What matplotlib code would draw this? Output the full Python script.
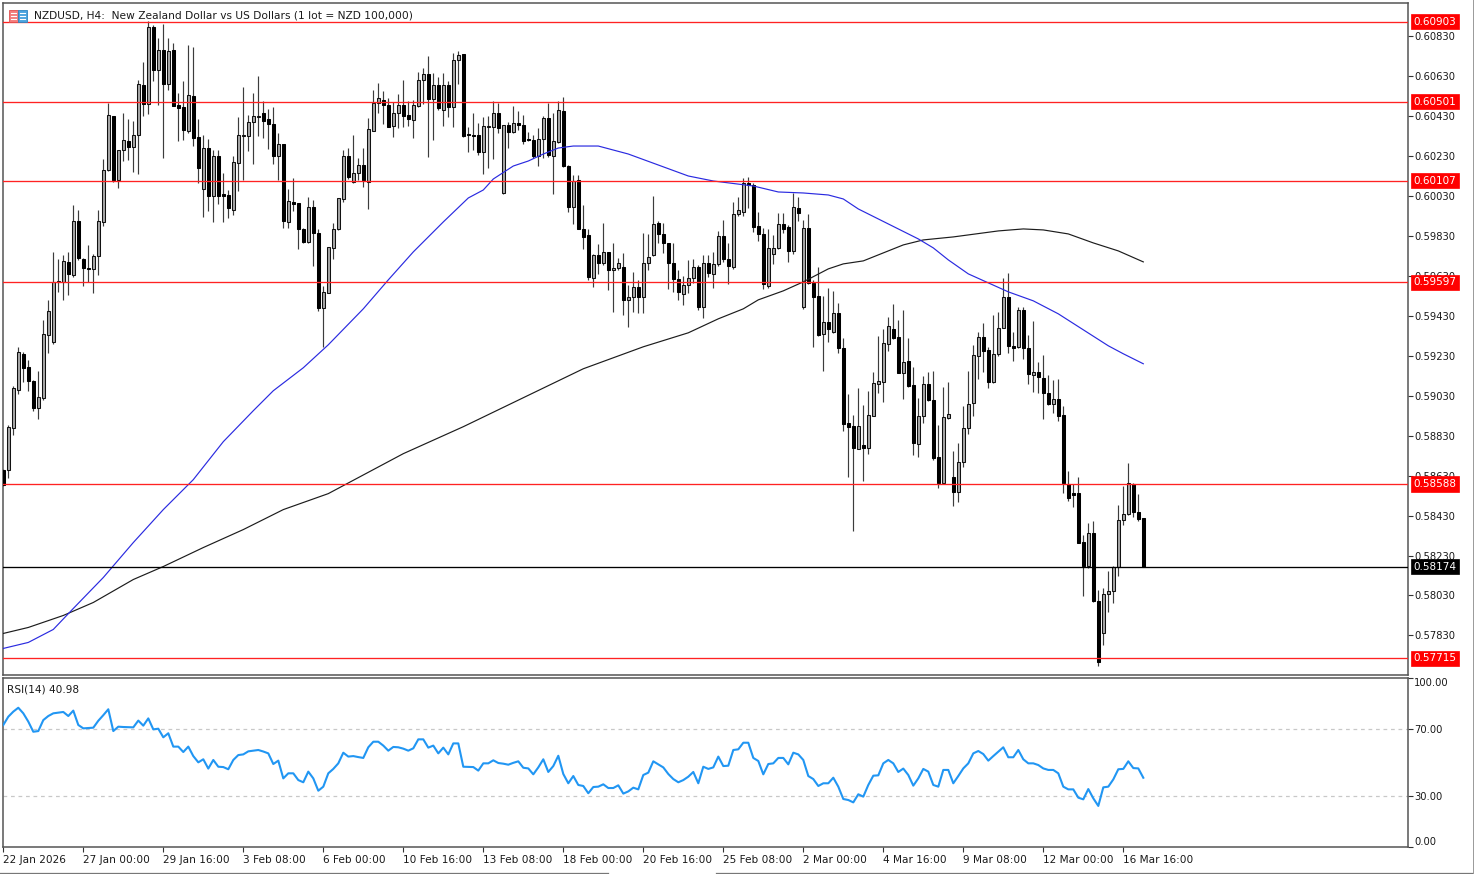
import numpy as np
import matplotlib
matplotlib.use("Agg")
import matplotlib.pyplot as plt
from matplotlib.lines import Line2D
from matplotlib.patches import Rectangle
from matplotlib.transforms import Affine2D

# prices are kept in points (1e-5)
opens = [
    58660, 58660, 58870, 59060, 59240, 59175, 59105, 58970, 59020, 59335,
    59300, 59600, 59600, 59700, 59635, 59905, 59715, 59670, 59665, 59730,
    59900, 60160, 60430, 60110, 60260, 60305, 60275, 60335, 60585, 60490,
    60875, 60660, 60760, 60590, 60760, 60485, 60475, 60355, 60530, 60325,
    60065, 60270, 60030, 60230, 60040, 60035, 59960, 60195, 60330, 60330,
    60400, 60425, 60445, 60415, 60390, 60230, 60290, 59900, 60000, 59995,
    59865, 59800, 59975, 59845, 59470, 59545, 59770, 59865, 60015, 60230,
    60100, 60145, 60185, 60100, 60355, 60495, 60510, 60485, 60380, 60445,
    60485, 60435, 60410, 60480, 60610, 60640, 60515, 60585, 60460, 60585,
    60475, 60710, 60740, 60340, 60335, 60335, 60250, 60375, 60375, 60445,
    60045, 60385, 60350, 60395, 60385, 60315, 60310, 60230, 60315, 60420,
    60230, 60300, 60455, 60180, 59975, 60110, 59865, 59835, 59620, 59735,
    59695, 59750, 59660, 59670, 59675, 59510, 59525, 59575, 59525, 59695,
    59735, 59895, 59840, 59795, 59695, 59615, 59540, 59585, 59620, 59675,
    59475, 59695, 59640, 59690, 59830, 59715, 59675, 59940, 59950, 60095,
    60085, 59880, 59840, 59580, 59740, 59770, 59890, 59875, 59755, 59970,
    59475, 59870, 59595, 59530, 59340, 59400, 59350, 59445, 59270, 58895,
    58880, 58765, 58785, 58770, 58930, 59090, 59100, 59290, 59365, 59325,
    59145, 59205, 59085, 58790, 58930, 59090, 59010, 58725, 58595, 58920,
    58625, 58550, 58700, 58870, 58995, 59230, 59325, 59260, 59100, 59240,
    59370, 59525, 59280, 59275, 59460, 59270, 59135, 59150, 59120, 59045,
    58990, 59015, 58935, 58590, 58545, 58545, 58300, 58180, 58345, 58000,
    57840, 58035, 58050, 58175, 58410, 58440, 58590, 58450, 58420,
]
closes = [
    58585, 58875, 59070, 59250, 59170, 59105, 58970, 59025, 59340, 59455,
    59600, 59605, 59705, 59640, 59905, 59720, 59670, 59665, 59730, 59905,
    60160, 60435, 60110, 60260, 60310, 60275, 60335, 60590, 60490, 60875,
    60660, 60760, 60590, 60755, 60480, 60470, 60360, 60535, 60320, 60170,
    60270, 60030, 60230, 60030, 60030, 59970, 60200, 60335, 60335, 60400,
    60430, 60430, 60405, 60390, 60230, 60290, 59905, 60005, 59990, 59865,
    59800, 59975, 59845, 59470, 59550, 59775, 59865, 60020, 60230, 60125,
    60145, 60185, 60110, 60365, 60495, 60520, 60485, 60375, 60445, 60485,
    60430, 60415, 60485, 60610, 60640, 60515, 60585, 60470, 60585, 60475,
    60710, 60735, 60330, 60335, 60330, 60250, 60380, 60380, 60445, 60370,
    60385, 60350, 60395, 60385, 60305, 60310, 60230, 60315, 60420, 60235,
    60305, 60460, 60180, 59975, 60105, 59865, 59825, 59625, 59735, 59695,
    59750, 59660, 59670, 59695, 59510, 59525, 59575, 59525, 59695, 59725,
    59890, 59840, 59795, 59695, 59615, 59550, 59585, 59620, 59675, 59475,
    59695, 59645, 59690, 59830, 59715, 59680, 59940, 59960, 60095, 60085,
    59875, 59840, 59590, 59770, 59770, 59890, 59865, 59755, 59975, 59945,
    59870, 59595, 59525, 59335, 59400, 59365, 59445, 59270, 58890, 58875,
    58770, 58880, 58770, 58935, 59095, 59105, 59295, 59380, 59320, 59145,
    59200, 59080, 58795, 58930, 59090, 59010, 58720, 58595, 58925, 58940,
    58550, 58700, 58870, 58990, 59235, 59325, 59255, 59100, 59240, 59370,
    59525, 59280, 59270, 59460, 59270, 59140, 59150, 59125, 59045, 58990,
    59015, 58930, 58595, 58520, 58535, 58295, 58180, 58345, 58000, 57695,
    58035, 58050, 58175, 58410, 58440, 58595, 58450, 58415, 58174,
]
highs = [
    58665, 58885, 59080, 59275, 59250, 59210, 59110, 59155, 59410, 59510,
    59750, 59715, 59735, 59750, 59985, 59960, 59720, 59785, 59740, 59960,
    60215, 60495, 60430, 60260, 60445, 60415, 60405, 60610, 60700, 60905,
    60885, 60820, 60890, 60820, 60795, 60545, 60605, 60785, 60775, 60415,
    60335, 60315, 60260, 60260, 60145, 60060, 60230, 60425, 60575, 60435,
    60545, 60630, 60505, 60465, 60475, 60345, 60290, 60065, 60120, 59995,
    59870, 60025, 60010, 59865, 59580, 59775, 59895, 60020, 60260, 60270,
    60335, 60220, 60270, 60420, 60560, 60595, 60555, 60520, 60500, 60540,
    60610, 60505, 60510, 60650, 60670, 60730, 60645, 60625, 60645, 60605,
    60745, 60755, 60740, 60375, 60445, 60395, 60425, 60430, 60505, 60495,
    60385, 60400, 60480, 60455, 60435, 60350, 60335, 60370, 60430, 60495,
    60445, 60505, 60525, 60185, 60135, 60135, 59985, 59865, 59740, 59790,
    59895, 59750, 59795, 59720, 59745, 59585, 59650, 59610, 59845, 59840,
    60030, 59905, 59895, 59795, 59795, 59660, 59630, 59710, 59715, 59685,
    59735, 59735, 59750, 59855, 59910, 59795, 60000, 60025, 60120, 60125,
    60095, 59950, 59870, 59865, 59835, 59945, 59945, 59885, 60045, 60025,
    59910, 59940, 59610, 59675, 59530, 59570, 59555, 59495, 59320, 59040,
    58935, 59070, 58985, 59055, 59150, 59330, 59365, 59425, 59490, 59410,
    59460, 59320, 59175, 59020, 59130, 59150, 59155, 58885, 59075, 59100,
    58755, 58795, 58980, 59155, 59285, 59350, 59395, 59275, 59435, 59450,
    59620, 59645, 59350, 59475, 59475, 59335, 59405, 59200, 59235, 59135,
    59110, 59115, 58980, 58655, 58590, 58625, 58335, 58395, 58405, 58060,
    58070, 58155, 58180, 58485, 58580, 58695, 58595, 58540, 58420,
]
lows = [
    58580, 58620, 58835, 59040, 59100, 59055, 58955, 58915, 59010, 59245,
    59290, 59550, 59510, 59535, 59625, 59710, 59580, 59600, 59545, 59635,
    59880, 60155, 60100, 60070, 60205, 60210, 60150, 60140, 60430, 60440,
    60605, 60485, 60220, 60560, 60480, 60305, 60310, 60345, 60280, 60095,
    59925, 59955, 59900, 59990, 59900, 59920, 59935, 60055, 60110, 60255,
    60190, 60330, 60320, 60265, 60190, 60110, 59870, 59870, 59955, 59765,
    59795, 59795, 59680, 59455, 59275, 59545, 59715, 59860, 60000, 60115,
    60095, 60110, 60075, 59965, 60355, 60445, 60390, 60375, 60325, 60370,
    60375, 60380, 60320, 60475, 60490, 60225, 60310, 60460, 60380, 60425,
    60375, 60590, 60325, 60250, 60260, 60235, 60140, 60170, 60215, 60345,
    60040, 60270, 60345, 60360, 60290, 60305, 60220, 60180, 60220, 60225,
    60040, 60295, 60175, 59950, 59890, 59865, 59765, 59610, 59575, 59640,
    59685, 59560, 59450, 59660, 59435, 59375, 59450, 59445, 59445, 59660,
    59730, 59795, 59745, 59565, 59550, 59510, 59485, 59545, 59595, 59460,
    59420, 59625, 59570, 59680, 59700, 59590, 59665, 59930, 59930, 59970,
    59850, 59805, 59565, 59570, 59690, 59765, 59845, 59700, 59740, 59905,
    59465, 59590, 59275, 59330, 59155, 59300, 59345, 59245, 58855, 58625,
    58355, 58765, 58605, 58740, 58930, 59045, 59000, 59255, 59315, 59145,
    59015, 59075, 58735, 58725, 58895, 59005, 58710, 58570, 58595, 58915,
    58480, 58500, 58675, 58840, 58930, 59115, 59150, 59070, 59095, 59230,
    59370, 59245, 59205, 59270, 59215, 59090, 59050, 59045, 58915, 58985,
    58945, 58905, 58545, 58505, 58475, 58295, 58025, 58170, 57995, 57675,
    57780, 57945, 57990, 58130, 58385, 58435, 58425, 58405, 58174,
]

ma_fast_idx = [0, 5, 10, 14, 20, 26, 32, 38, 44, 50, 54, 60, 65, 72, 77, 82, 88, 93,
               96, 98, 102, 105, 108, 111, 114, 119, 125, 131, 137, 142, 150, 155,
               160, 165, 168, 171, 177, 183, 186, 189, 193, 197, 201, 206, 211, 216,
               221, 224, 228]
ma_fast = [57765, 57795, 57860, 57965, 58120, 58295, 58460, 58610, 58800, 58955,
           59055, 59170, 59285, 59465, 59610, 59750, 59900, 60020, 60060, 60115,
           60180, 60205, 60240, 60270, 60280, 60280, 60240, 60185, 60130, 60105,
           60080, 60050, 60045, 60035, 60015, 59965, 59890, 59815, 59770, 59710,
           59640, 59595, 59550, 59505, 59440, 59360, 59280, 59240, 59190]
ma_slow_idx = [0, 5, 12, 18, 26, 32, 40, 48, 56, 65, 80, 92, 104, 116, 128, 137, 143,
               148, 151, 156, 160, 165, 168, 172, 175, 180, 184, 190, 199, 204, 208,
               213, 218, 223, 228]
ma_slow = [57840, 57870, 57930, 57995, 58110, 58175, 58270, 58360, 58460, 58540,
           58740, 58875, 59020, 59165, 59275, 59345, 59415, 59465, 59510, 59555,
           59600, 59665, 59690, 59705, 59735, 59785, 59810, 59825, 59855, 59865,
           59860, 59840, 59795, 59755, 59700]

rsi = [
    72.2, 77.1, 80.1, 82.4, 79.1, 74.2, 68.2, 68.6, 75.1, 77.5,
    79.1, 79.5, 79.9, 77.5, 80.7, 72.2, 70.2, 70.4, 70.6, 74.7,
    78.0, 81.5, 68.6, 71.2, 71.0, 70.9, 70.8, 74.8, 71.8, 76.1,
    69.6, 70.0, 64.9, 67.3, 59.4, 59.4, 56.2, 59.4, 53.8, 50.1,
    51.9, 46.4, 51.5, 47.5, 47.3, 46.0, 51.5, 54.4, 54.8, 56.6,
    57.0, 57.4, 56.5, 55.4, 49.1, 51.1, 40.6, 43.6, 43.6, 39.6,
    38.3, 44.6, 40.6, 33.3, 35.7, 43.6, 46.2, 49.5, 55.8, 53.5,
    53.8, 53.2, 52.7, 59.0, 62.3, 62.3, 60.0, 57.0, 59.2, 59.0,
    58.2, 57.0, 58.4, 63.7, 63.7, 58.8, 60.0, 55.4, 58.8, 54.8,
    61.3, 61.3, 47.5, 47.4, 47.3, 45.2, 49.5, 49.5, 51.3, 49.7,
    49.3, 48.7, 49.8, 50.7, 46.9, 46.5, 43.0, 47.1, 51.9, 44.4,
    47.9, 54.0, 43.2, 37.7, 42.0, 36.7, 36.1, 31.8, 35.5, 35.7,
    37.1, 34.9, 34.9, 36.5, 31.6, 32.9, 35.1, 34.1, 42.6, 44.0,
    50.7, 48.9, 47.1, 43.2, 40.2, 38.3, 39.6, 41.6, 44.4, 37.7,
    47.5, 46.2, 47.1, 53.5, 47.9, 48.1, 57.4, 57.8, 61.7, 61.7,
    52.7, 50.9, 43.0, 49.1, 49.5, 52.7, 52.7, 48.9, 55.8, 54.8,
    51.5, 42.0, 40.2, 36.1, 37.7, 37.7, 41.0, 35.7, 28.4, 27.8,
    26.4, 31.2, 29.8, 36.7, 42.2, 42.4, 49.5, 51.5, 49.5, 44.4,
    46.4, 42.6, 36.3, 40.6, 46.2, 44.6, 36.7, 35.7, 45.6, 45.6,
    37.7, 42.0, 46.5, 49.5, 55.4, 56.8, 55.0, 51.1, 53.8, 56.4,
    59.0, 53.1, 53.1, 57.4, 51.9, 49.5, 49.5, 48.5, 46.5, 45.6,
    45.6, 43.6, 35.7, 34.1, 34.1, 29.2, 28.2, 34.3, 28.8, 24.3,
    35.3, 35.7, 40.0, 46.0, 46.2, 50.7, 46.7, 46.5, 40.98,
]

red_levels = [60903, 60501, 60107, 59597, 58588, 57715]
last_price = 58174
price_ticks = [57830, 58030, 58230, 58430, 58630, 58830, 59030, 59230, 59430, 59630,
               59830, 60030, 60230, 60430, 60630, 60830]
rsi_ticks = [0, 30, 70, 100]
date_labels = ["22 Jan 2026", "27 Jan 00:00", "29 Jan 16:00", "3 Feb 08:00", "6 Feb 00:00",
               "10 Feb 16:00", "13 Feb 08:00", "18 Feb 00:00", "20 Feb 16:00", "25 Feb 08:00",
               "2 Mar 00:00", "4 Mar 16:00", "9 Mar 08:00", "12 Mar 00:00", "16 Mar 16:00"]
title = "NZDUSD, H4:  New Zealand Dollar vs US Dollars (1 lot = NZD 100,000)"

W, H = 1474, 874
FRAME = "#555555"
TEXT = "#1a1a1a"
FS = 7.2
FS_WIDE = 7.55


def add_axes_px(fig, left, top, right, bottom):
    return fig.add_axes([left / W, 1 - bottom / H, (right - left) / W, (bottom - top) / H])


def style_frame(ax):
    for spine in ax.spines.values():
        spine.set_color(FRAME)
        spine.set_linewidth(1.1)


def price_tag(ax, level, color):
    ax.annotate(f"{level / 1e5:.5f}", xy=(1, level / 1e5), xycoords=ax.get_yaxis_transform(),
                xytext=(3.9, 0), textcoords="offset points", va="center", ha="left",
                color="white", fontsize=7.5, zorder=6, annotation_clip=False,
                bbox=dict(boxstyle="square,pad=0.25", fc=color, ec=color, lw=0.5))


fig = plt.figure(figsize=(W / 100, H / 100), dpi=100, facecolor="white")
px = Affine2D().scale(1 / W, -1 / H).translate(0, 1) + fig.transFigure

ax = add_axes_px(fig, 3, 3, 1408, 675)
ax_rsi = add_axes_px(fig, 3, 678, 1408, 847)

o = np.array(opens) / 1e5
c = np.array(closes) / 1e5
h = np.array(highs) / 1e5
l = np.array(lows) / 1e5
x = np.arange(len(o))
up = c >= o

ax.vlines(x, l, h, color="#3c3c3c", lw=0.85, zorder=2)
ax.bar(x[up], (c - o)[up], bottom=o[up], width=0.56, color="#a6a6a6", edgecolor="#111111",
       linewidth=0.75, zorder=3)
ax.bar(x[~up], (c - o)[~up], bottom=o[~up], width=0.56, color="black", edgecolor="black",
       linewidth=0.75, zorder=3)

ax.plot(ma_slow_idx, np.array(ma_slow) / 1e5, color="#1c1c1c", lw=0.85, zorder=4)
ax.plot(ma_fast_idx, np.array(ma_fast) / 1e5, color="#2a2ae0", lw=0.85, zorder=4)

for level in red_levels:
    ax.axhline(level / 1e5, color="#ff2222", lw=0.95, zorder=5)
    price_tag(ax, level, "#ff0000")
ax.axhline(last_price / 1e5, color="black", lw=0.95, zorder=5)
price_tag(ax, last_price, "black")

xlim = (-0.06, 280.94)
ax.set_xlim(xlim)
ax.set_ylim(0.57632, 0.60996)
ax.set_xticks([])
ax.yaxis.tick_right()
ax.set_yticks(np.array(price_ticks) / 1e5)
ax.set_yticklabels([f"{t / 1e5:.5f}" for t in price_ticks], fontsize=FS, color=TEXT)
ax.tick_params(axis="y", length=3.5, width=0.8, color="#333333", pad=1)
style_frame(ax)

ax_rsi.plot(x, rsi, color="#2196f3", lw=1.5, solid_joinstyle="round", zorder=3)
for level in (70, 30):
    ax_rsi.axhline(level, color="#c8c8c8", lw=0.9, ls=(0, (3, 3)), zorder=1)
ax_rsi.set_xlim(xlim)
ax_rsi.set_ylim(0, 100)
ax_rsi.yaxis.tick_right()
ax_rsi.set_yticks(rsi_ticks)
ax_rsi.set_yticklabels([f"{t:.2f}" for t in rsi_ticks], fontsize=FS, color=TEXT)
for tick, val in zip(ax_rsi.get_yticklabels(), rsi_ticks):
    if val == 100:
        tick.set_va("top")
    elif val == 0:
        tick.set_va("bottom")
ax_rsi.tick_params(axis="y", length=3.5, width=0.8, color="#333333", pad=1)
ax_rsi.set_xticks(np.arange(len(date_labels)) * 16)
ax_rsi.set_xticklabels(date_labels, fontsize=FS_WIDE, color=TEXT, ha="left")
ax_rsi.tick_params(axis="x", length=3.5, width=0.8, color="#333333", pad=2)
style_frame(ax_rsi)

fig.text(34, 16, title, transform=px, fontsize=7.7, color=TEXT, va="center", ha="left", zorder=7)
fig.text(7, 689, f"RSI(14) {rsi[-1]:.2f}", transform=px, fontsize=FS_WIDE, color=TEXT, va="center", ha="left", zorder=7)

# little chart icon next to the title
fig.add_artist(Rectangle((9, 10), 9, 12, transform=px, fc="#f47c7c", ec="#e05050", lw=0.6, zorder=7))
fig.add_artist(Rectangle((18, 10), 9, 12, transform=px, fc="#4aa3df", ec="#2f86c0", lw=0.6, zorder=7))
for row in (13, 16, 19):
    fig.add_artist(Line2D([11, 16], [row, row], transform=px, color="white", lw=0.8, zorder=8))
    fig.add_artist(Line2D([20, 25], [row, row], transform=px, color="white", lw=0.8, zorder=8))

# window edge
for seg in ([0, 608], [716, 1474]):
    fig.add_artist(Line2D(seg, [873, 873], transform=px, color="#777777", lw=0.9))
fig.add_artist(Line2D([1473, 1473], [0, 874], transform=px, color="#999999", lw=0.7))

fig.savefig("out.png", dpi=100)
plt.close(fig)
